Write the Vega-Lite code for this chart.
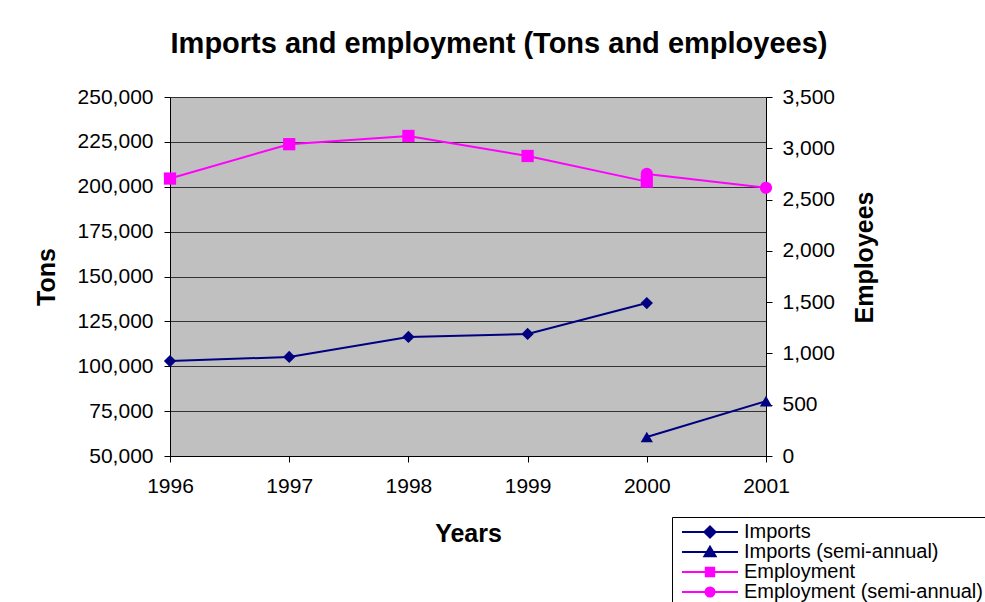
{
  "$schema": "https://vega.github.io/schema/vega-lite/v6.json",
  "width": 596,
  "height": 359,
  "autosize": {"type": "none"},
  "padding": {"left": 170, "top": 97, "right": 219, "bottom": 146},
  "background": "white",
  "title": {
    "text": "Imports and employment (Tons and employees)",
    "fontSize": 29,
    "font": "Liberation Sans",
    "fontWeight": "bold",
    "color": "black",
    "anchor": "middle",
    "offset": 27,
    "dx": 31
  },
  "data": {
    "values": [
      {"year": "1996", "series": "Imports", "axis": "left", "value": 102900},
      {"year": "1997", "series": "Imports", "axis": "left", "value": 105200},
      {"year": "1998", "series": "Imports", "axis": "left", "value": 116300},
      {"year": "1999", "series": "Imports", "axis": "left", "value": 118000},
      {"year": "2000", "series": "Imports", "axis": "left", "value": 135200},
      {"year": "2000", "series": "Imports (semi-annual)", "axis": "left", "value": 60600},
      {"year": "2001", "series": "Imports (semi-annual)", "axis": "left", "value": 80600},
      {"year": "1996", "series": "Employment", "axis": "right", "value": 2705},
      {"year": "1997", "series": "Employment", "axis": "right", "value": 3040},
      {"year": "1998", "series": "Employment", "axis": "right", "value": 3120},
      {"year": "1999", "series": "Employment", "axis": "right", "value": 2925},
      {"year": "2000", "series": "Employment", "axis": "right", "value": 2675},
      {"year": "2000", "series": "Employment (semi-annual)", "axis": "right", "value": 2750},
      {"year": "2001", "series": "Employment (semi-annual)", "axis": "right", "value": 2615}
    ]
  },
  "encoding": {
    "x": {
      "field": "year",
      "type": "ordinal",
      "scale": {"type": "point", "padding": 0},
      "axis": {
        "title": "Years",
        "labelAngle": 0,
        "labelPadding": 13,
        "titlePadding": 25,
        "grid": false
      }
    }
  },
  "layer": [
    {
      "transform": [{"filter": "datum.axis == 'left'"}],
      "encoding": {
        "y": {
          "field": "value",
          "type": "quantitative",
          "scale": {"domain": [50000, 250000], "nice": false, "zero": false},
          "axis": {
            "title": "Tons",
            "orient": "left",
            "values": [50000, 75000, 100000, 125000, 150000, 175000, 200000, 225000, 250000],
            "format": ",.0f",
            "grid": true,
            "labelPadding": 11,
            "titlePadding": 18
          }
        },
        "color": {
          "field": "series",
          "type": "nominal",
          "scale": {"domain": ["Imports", "Imports (semi-annual)"], "range": ["#000080", "#000080"]},
          "legend": null
        }
      },
      "layer": [
        {"mark": {"type": "line", "strokeWidth": 2}},
        {
          "mark": {"type": "point", "filled": true, "opacity": 1, "size": 150},
          "encoding": {
            "shape": {
              "field": "series",
              "type": "nominal",
              "scale": {"domain": ["Imports", "Imports (semi-annual)"], "range": ["diamond", "triangle-up"]},
              "legend": null
            }
          }
        }
      ]
    },
    {
      "transform": [{"filter": "datum.axis == 'right'"}],
      "encoding": {
        "y": {
          "field": "value",
          "type": "quantitative",
          "scale": {"domain": [0, 3500], "nice": false},
          "axis": {
            "title": "Employees",
            "orient": "right",
            "values": [0, 500, 1000, 1500, 2000, 2500, 3000, 3500],
            "format": ",.0f",
            "grid": false,
            "labelPadding": 10,
            "titlePadding": 18,
            "titleAngle": -90,
            "titleBaseline": "top",
            "titleY": 160
          }
        },
        "color": {
          "field": "series",
          "type": "nominal",
          "scale": {"domain": ["Employment", "Employment (semi-annual)"], "range": ["#FF00FF", "#FF00FF"]},
          "legend": null
        }
      },
      "layer": [
        {"mark": {"type": "line", "strokeWidth": 2}},
        {
          "mark": {"type": "point", "filled": true, "opacity": 1, "size": 150},
          "encoding": {
            "shape": {
              "field": "series",
              "type": "nominal",
              "scale": {"domain": ["Employment", "Employment (semi-annual)"], "range": ["square", "circle"]},
              "legend": null
            }
          }
        }
      ]
    },
    {
      "mark": {"type": "point", "filled": true, "opacity": 0, "size": 10},
      "encoding": {
        "y": {"field": "value", "type": "quantitative", "axis": null},
        "color": {
          "field": "series",
          "type": "nominal",
          "scale": {
            "domain": ["Imports", "Imports (semi-annual)", "Employment", "Employment (semi-annual)"],
            "range": ["#000080", "#000080", "#FF00FF", "#FF00FF"]
          },
          "legend": {
            "title": null, "orient": "none", "legendX": 502, "legendY": 420,
            "symbolSize": 196, "symbolOffset": 23, "labelOffset": 24, "padding": 5, "rowPadding": -2,
            "strokeColor": "black", "fillColor": "white", "labelFontSize": 20, "labelFont": "Liberation Sans",
            "labelColor": "black", "labelLimit": 400, "symbolStrokeWidth": 2, "symbolOpacity": 1
          }
        },
        "stroke": {
          "field": "series",
          "type": "nominal",
          "scale": {
            "domain": ["Imports", "Imports (semi-annual)", "Employment", "Employment (semi-annual)"],
            "range": ["#000080", "#000080", "#FF00FF", "#FF00FF"]
          },
          "legend": {
            "title": null, "orient": "none", "legendX": 502, "legendY": 420,
            "symbolSize": 196, "symbolOffset": 23, "labelOffset": 24, "padding": 5, "rowPadding": -2,
            "strokeColor": "black", "fillColor": "white", "labelFontSize": 20, "labelFont": "Liberation Sans",
            "labelColor": "black", "labelLimit": 400, "symbolStrokeWidth": 2, "symbolOpacity": 1
          }
        },
        "shape": {
          "field": "series",
          "type": "nominal",
          "scale": {
            "domain": ["Imports", "Imports (semi-annual)", "Employment", "Employment (semi-annual)"],
            "range": [
              "M-4,0L4,0M0,-0.8L0.8,0L0,0.8L-0.8,0Z",
              "M-4,0L4,0M0,-0.75L0.8,0.6L-0.8,0.6Z",
              "M-4,0L4,0M-0.6,-0.6L0.6,-0.6L0.6,0.6L-0.6,0.6Z",
              "M-4,0L4,0M-0.65,0A0.65,0.65,0,1,1,0.65,0A0.65,0.65,0,1,1,-0.65,0Z"
            ]
          },
          "legend": {
            "title": null, "orient": "none", "legendX": 502, "legendY": 420,
            "symbolSize": 196, "symbolOffset": 23, "labelOffset": 24, "padding": 5, "rowPadding": -2,
            "strokeColor": "black", "fillColor": "white", "labelFontSize": 20, "labelFont": "Liberation Sans",
            "labelColor": "black", "labelLimit": 400, "symbolStrokeWidth": 2, "symbolOpacity": 1
          }
        }
      }
    }
  ],
  "resolve": {
    "scale": {"y": "independent", "color": "independent", "shape": "independent", "stroke": "independent"}
  },
  "config": {
    "font": "Liberation Sans",
    "view": {"fill": "#C0C0C0", "stroke": "#808080", "strokeWidth": 1},
    "axis": {
      "labelFont": "Liberation Sans",
      "titleFont": "Liberation Sans",
      "labelFontSize": 21,
      "labelColor": "black",
      "titleFontSize": 25,
      "titleFontWeight": "bold",
      "titleColor": "black",
      "domainColor": "black",
      "domainWidth": 1,
      "tickColor": "black",
      "tickSize": 6,
      "gridColor": "#333333",
      "gridOpacity": 1,
      "gridWidth": 1
    }
  }
}
